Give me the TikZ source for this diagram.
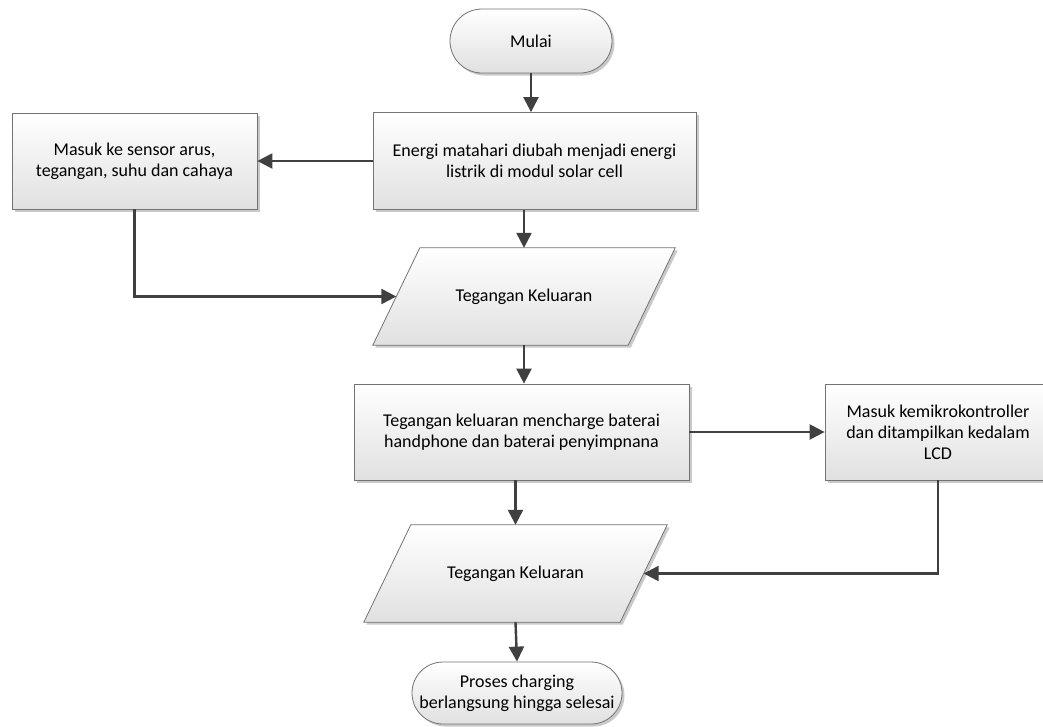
\documentclass[tikz,border=0pt]{standalone}
\usepackage{fontspec}
\setmainfont{Carlito}
\usetikzlibrary{shapes.geometric,shadows,arrows.meta,calc}
\begin{document}
\begin{tikzpicture}[x=1pt,y=-1pt,
  fillstyle/.style={draw=black!55, line width=0.8pt, top color=white, bottom color=black!12,
    drop shadow={shadow xshift=2.5pt, shadow yshift=-2.5pt, fill=black!30, opacity=0.7}},
  base/.style={align=center, font=\fontsize{18}{21}\selectfont, inner sep=0pt},
  procbox/.style={base, fillstyle, rectangle},
  termbox/.style={base, fillstyle, rectangle},
  iotext/.style={base, rectangle},
  flow/.style={draw=black!75, line width=2.4pt, -{Triangle[length=15pt,width=15pt]}}
]
\useasboundingbox (0,0) rectangle (1043,726);
\begin{scope}
\clip (0,0) rectangle (1043,726);
\node[termbox, minimum width=162pt, minimum height=64pt, rounded corners=32pt] (mulai) at (531,41) {Mulai};
\node[procbox, minimum width=323pt, minimum height=97pt] (energi) at (534.5,161)
  {Energi matahari diubah menjadi energi\\listrik di modul solar cell};
\node[procbox, minimum width=245pt, minimum height=96pt] (sensor) at (134.5,161)
  {Masuk ke sensor arus,\\tegangan, suhu dan cahaya};
% parallelogram 1
\node[iotext, minimum width=302pt, minimum height=97pt] (tk1) at (524,296.5) {};
\path[fillstyle] (tk1.south west) -- ($(tk1.south east)-(47,0)$) -- (tk1.north east)
  -- ($(tk1.north west)+(47,0)$) -- cycle;
\node[base] (tk1t) at (tk1.center) {Tegangan Keluaran};
\coordinate (tk1L) at ($(tk1.west)+(23.5,0)$);
\node[procbox, minimum width=335pt, minimum height=96pt] (charge) at (521.5,432)
  {Tegangan keluaran mencharge baterai\\handphone dan baterai penyimpnana};
\node[procbox, minimum width=226pt, minimum height=96pt] (lcd) at (938,432)
  {Masuk kemikrokontroller\\dan ditampilkan kedalam\\LCD};
% parallelogram 2
\node[iotext, minimum width=303pt, minimum height=97pt] (tk2) at (515.5,573.5) {};
\path[fillstyle] (tk2.south west) -- ($(tk2.south east)-(47,0)$) -- (tk2.north east)
  -- ($(tk2.north west)+(47,0)$) -- cycle;
\node[base] (tk2t) at (tk2.center) {Tegangan Keluaran};
\coordinate (tk2R) at ($(tk2.east)-(23.5,0)$);
\node[termbox, minimum width=210pt, minimum height=62pt, rounded corners=31pt] (selesai) at (517,693)
  {Proses charging\\berlangsung hingga selesai};
\end{scope}

\draw[flow] (mulai.south) -- (mulai.south |- energi.north);
\draw[flow] (energi.west) -- (sensor.east);
\draw[flow] (tk1.north |- energi.south) -- (tk1.north);
\draw[flow] (sensor.south) |- (tk1L);
\draw[flow] (tk1.south) -- (tk1.south |- charge.north);
\draw[flow] (charge.east) -- (lcd.west);
\draw[flow] (tk2.north |- charge.south) -- (tk2.north);
\draw[flow] (lcd.south) |- (tk2R);
\draw[flow] (tk2.south) -- (selesai.north);
\end{tikzpicture}
\end{document}
